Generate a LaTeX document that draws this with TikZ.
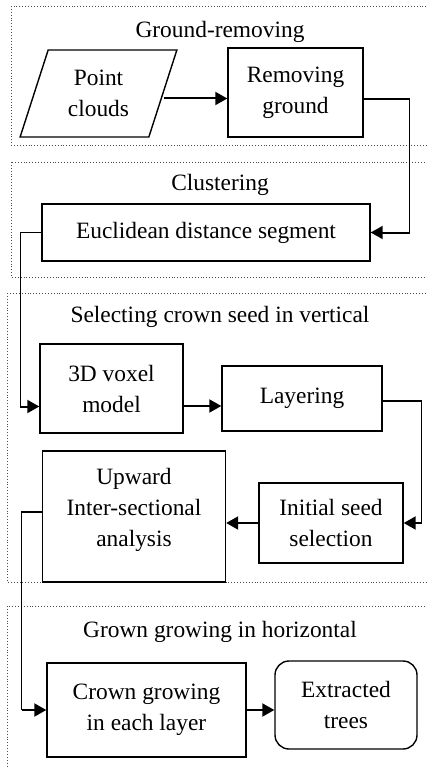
\documentclass[tikz,border=0pt]{standalone}
\usepackage{fontspec}
\setmainfont{Liberation Serif}
\usetikzlibrary{arrows.meta,shapes.geometric}

\tikzset{
  txt/.style={font=\fontsize{23.4}{31}\selectfont, align=center, inner sep=0pt},
  box/.style={txt, draw, line width=1.4pt, minimum width=#1},
  frame/.style={draw=black!70, dotted, line width=0.9pt},
  link/.style={line width=1.3pt},
  arr/.style={line width=2pt, -{Triangle[length=12pt,width=13pt]}},
}

\begin{document}
\begin{tikzpicture}[x=1pt,y=-1pt]
\useasboundingbox (0,0) rectangle (427,767);

% dotted stage frames (open on the right)
\draw[frame] (11,6) rectangle (445,145);
\draw[frame] (11,162) rectangle (445,277);
\draw[frame] (7,293) rectangle (445,582);
\draw[frame] (7,606) rectangle (445,780);

% stage titles
\node[txt] (t1) at (220,32) {Ground-removing};
\node[txt] (t2) at (220,185) {Clustering};
\node[txt] (t3) at (220,317) {Selecting crown seed in vertical};
\node[txt] (t4) at (220,632) {Grown growing in horizontal};

% process steps
\node[txt, draw, line width=1.4pt, trapezium, trapezium left angle=70, trapezium right angle=110,
      trapezium stretches=true, minimum width=157pt, minimum height=87pt]
      (pc) at (98.5,93.5) {Point\\clouds};
\node[box=135pt, minimum height=89pt] (rg) at (295.5,92.5) {Removing\\ground};
\node[box=328pt, minimum height=57pt] (eu) at (206,232.5) {Euclidean distance segment};
\node[box=143pt, minimum height=89pt] (vox) at (111.5,388.5) {3D voxel\\model};
\node[box=160pt, minimum height=65pt] (lay) at (302,398.5) {Layering};
\node[box=144pt, minimum height=80pt] (isel) at (331,523) {Initial seed\\selection};
% the strut below the last line lifts the three lines a little inside the box
\node[box=183pt, minimum height=131pt] (up) at (134,516.5)
      {Upward\\Inter-sectional\\analysis\rule[-18pt]{0pt}{18pt}};
\node[box=199pt, minimum height=94pt] (cg) at (146.5,710) {Crown growing\\in each layer};
\node[box=142pt, minimum height=88pt, rounded corners=14pt] (ex) at (346,705) {Extracted\\trees};

% entry/exit points of the connectors
\coordinate (pcout) at ([yshift=-5pt]pc.east);
\coordinate (rgout) at ([yshift=-6.5pt]rg.east);
\coordinate (voxin) at ([yshift=-18pt]vox.west);
\coordinate (voxout) at ([yshift=-17.5pt]vox.east);
\coordinate (layout) at ([yshift=-2.5pt]lay.east);
\coordinate (upout) at ([yshift=4.5pt]up.west);

% connectors
\draw[arr] (pcout) -- (pcout -| rg.west);
\draw[link] (rgout) -- ++(46,0) coordinate (c1) -- (c1 |- eu.east);
\draw[arr] (c1 |- eu.east) -- (eu.east);
\draw[link] (eu.west) -- ++(-21,0) coordinate (c2) -- (c2 |- voxin);
\draw[arr] (c2 |- voxin) -- (voxin);
\draw[arr] (voxout) -- (voxout -| lay.west);
\draw[link] (layout) -- ++(39,0) coordinate (c3) -- (c3 |- isel.east);
\draw[arr] (c3 |- isel.east) -- (isel.east);
\draw[arr] (isel.west) -- (isel.west -| up.east);
\draw[link] (upout) -- ++(-20,0) coordinate (c4) -- (c4 |- cg.west);
\draw[arr] (c4 |- cg.west) -- (cg.west);
\draw[arr] (cg.east) -- (cg.east -| ex.west);
\end{tikzpicture}
\end{document}
